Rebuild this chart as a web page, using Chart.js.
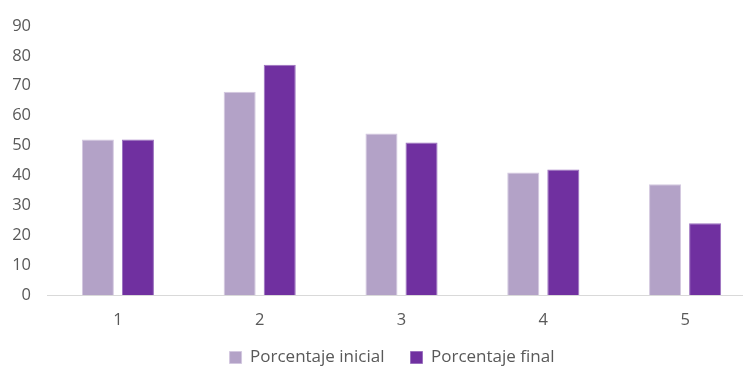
<!DOCTYPE html>
<html>
<head>
<meta charset="utf-8">
<script src="https://cdn.jsdelivr.net/npm/chart.js@4"></script>
<style>
  html, body { margin: 0; padding: 0; background: #fff; overflow: hidden; }
  #wrap { width: 756px; height: 366px; }
</style>
</head>
<body>
<div id="wrap"><canvas id="grafico"></canvas></div>
<script>
// datos del gráfico
const categorias = ["1", "2", "3", "4", "5"];
const porcentajeInicial = [52, 68, 54, 41, 37];
const porcentajeFinal = [52, 77, 51, 42, 24];
const marcasEje = [0, 10, 20, 30, 40, 50, 60, 70, 80, 90];

const fuente = { family: "'Open Sans', 'Liberation Sans', sans-serif", size: 16.5 };
const gris = "#595959";

// la leyenda ocupa una franja fija al pie y se dibuja un poco más abajo y a la derecha
const posicionLeyenda = {
  id: "posicionLeyenda",
  afterInit(chart) {
    const leyenda = chart.legend;
    const fitOriginal = leyenda.fit.bind(leyenda);
    leyenda.fit = function () {
      fitOriginal();
      this.height = 31;
    };
  },
  afterLayout(chart) {
    const leyenda = chart.legend;
    leyenda.top = 323;
    leyenda.left += 14;
    leyenda.right += 14;
  },
};

new Chart(document.getElementById("grafico"), {
  type: "bar",
  data: {
    labels: categorias,
    datasets: [
      {
        label: "Porcentaje inicial",
        data: porcentajeInicial,
        backgroundColor: "#B3A2C7",
        borderColor: "#D3C8E0",
        borderWidth: 1,
        categoryPercentage: 0.565,
        barPercentage: 0.8,
      },
      {
        label: "Porcentaje final",
        data: porcentajeFinal,
        backgroundColor: "#7030A0",
        borderColor: "#9A70BE",
        borderWidth: 1,
        categoryPercentage: 0.565,
        barPercentage: 0.8,
      },
    ],
  },
  options: {
    responsive: true,
    maintainAspectRatio: false,
    animation: false,
    layout: { padding: { top: 23, left: 0, right: 0, bottom: 0 } },
    plugins: {
      tooltip: { enabled: false },
      legend: {
        position: "bottom",
        labels: {
          boxWidth: 12,
          boxHeight: 12,
          padding: 26,
          color: gris,
          font: { family: fuente.family, size: 17 },
        },
      },
    },
    scales: {
      x: {
        grid: { display: false, drawTicks: false },
        border: { color: "#D9D9D9", width: 1 },
        ticks: { color: gris, font: fuente, padding: 15 },
        afterFit: (eje) => { eje.height = 40; },
      },
      y: {
        min: 0,
        max: 90,
        grid: { display: false, drawTicks: false },
        border: { display: false },
        afterBuildTicks: (eje) => { eje.ticks = marcasEje.map((v) => ({ value: v })); },
        ticks: { color: gris, font: fuente, padding: 16 },
        afterFit: (eje) => { eje.width = 47; },
      },
    },
  },
  plugins: [posicionLeyenda],
});
</script>
</body>
</html>
